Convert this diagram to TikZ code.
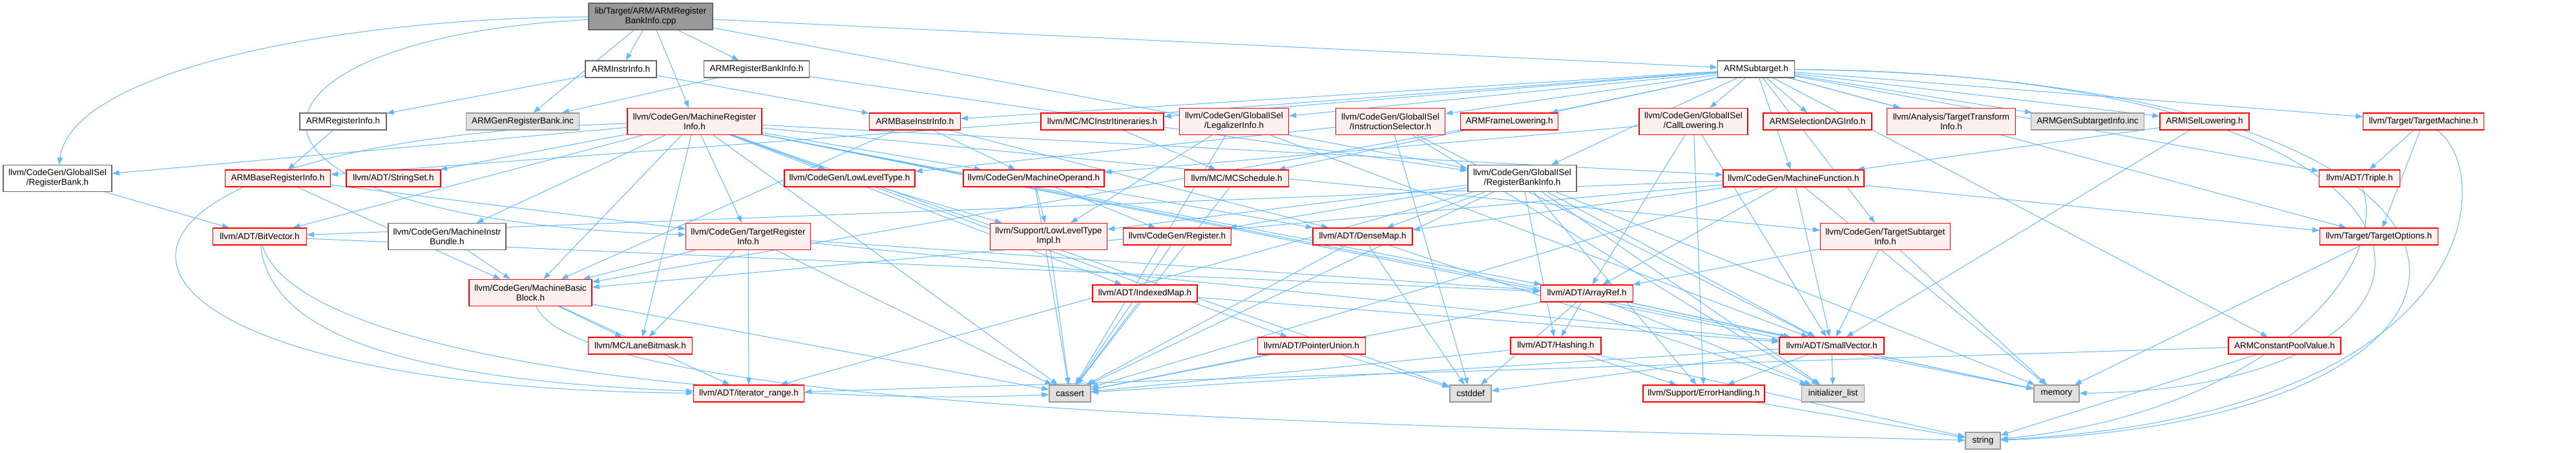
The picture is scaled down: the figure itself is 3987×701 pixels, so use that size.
\documentclass[tikz,border=0pt]{standalone}
\usepackage{fontspec}
\setmainfont{Liberation Sans}
\usetikzlibrary{arrows.meta,backgrounds}
\definecolor{edgeblue}{HTML}{63B8FF}
\definecolor{trunc}{HTML}{FF0000}
\definecolor{truncbg}{HTML}{FFF0F0}
\definecolor{sysbg}{HTML}{E0E0E0}
\definecolor{sysline}{HTML}{999999}
\definecolor{rootbg}{HTML}{999999}
\definecolor{rootline}{HTML}{666666}
\tikzset{
  hdr/.style={draw=trunc, fill=truncbg, line width=1.2pt, inner sep=0pt, minimum height=26, align=center, font=\fontsize{13.5}{15}\selectfont},
  tall/.style={minimum height=41},
  plain/.style={hdr, draw=rootline, fill=white},
  sys/.style={hdr, draw=sysline, fill=sysbg},
  src/.style={hdr, draw=rootline, fill=rootbg},
  dep/.style={-{Triangle[length=11pt,width=8pt]}, draw=edgeblue, line width=1pt},
}
\begin{document}
\begin{tikzpicture}[x=1pt,y=-1pt]
  \useasboundingbox (0,0) rectangle (3987,701);
  % source file and first level
  \node[src, tall, minimum width=192] (root) at (1007,25.5) {lib/Target/ARM/ARMRegister\\BankInfo.cpp};
  \node[plain, minimum width=110] (instr) at (961,107) {ARMInstrInfo.h};
  \node[plain, minimum width=163] (rbi) at (1171,107) {ARMRegisterBankInfo.h};
  \node[plain, minimum width=119] (sub) at (2718,107) {ARMSubtarget.h};
  % row 2
  \node[plain, minimum width=134] (reginfo) at (531,188) {ARMRegisterInfo.h};
  \node[sys, minimum width=175] (genrb) at (809,188) {ARMGenRegisterBank.inc};
  \node[hdr, tall, minimum width=208] (mri) at (1075,188) {llvm/CodeGen/MachineRegister\\Info.h};
  \node[hdr, minimum width=141] (baseinstr) at (1416,188) {ARMBaseInstrInfo.h};
  \node[hdr, minimum width=190] (itin) at (1706,188) {llvm/MC/MCInstrItineraries.h};
  \node[hdr, tall, minimum width=169] (legal) at (1910,188) {llvm/CodeGen/GlobalISel\\/LegalizerInfo.h};
  \node[hdr, tall, minimum width=169] (isel) at (2152,188) {llvm/CodeGen/GlobalISel\\/InstructionSelector.h};
  \node[hdr, minimum width=151] (frame) at (2336,188) {ARMFrameLowering.h};
  \node[hdr, tall, minimum width=168] (call) at (2621,188) {llvm/CodeGen/GlobalISel\\/CallLowering.h};
  \node[hdr, minimum width=168] (sdag) at (2813,188) {ARMSelectionDAGInfo.h};
  \node[hdr, tall, minimum width=199] (tti) at (3020,188) {llvm/Analysis/TargetTransform\\Info.h};
  \node[sys, minimum width=175] (gensub) at (3231,188) {ARMGenSubtargetInfo.inc};
  \node[hdr, minimum width=138] (isellow) at (3412,188) {ARMISelLowering.h};
  \node[hdr, minimum width=187] (tm) at (3751,188) {llvm/Target/TargetMachine.h};
  % row 3
  \node[plain, tall, minimum width=168] (rbank) at (89,276) {llvm/CodeGen/GlobalISel\\/RegisterBank.h};
  \node[hdr, minimum width=163] (basereg) at (430,276) {ARMBaseRegisterInfo.h};
  \node[hdr, minimum width=146] (sset) at (609,276) {llvm/ADT/StringSet.h};
  \node[hdr, minimum width=202] (llt) at (1315,276) {llvm/CodeGen/LowLevelType.h};
  \node[hdr, minimum width=218] (mop) at (1600,276) {llvm/CodeGen/MachineOperand.h};
  \node[hdr, minimum width=161] (sched) at (1914,276) {llvm/MC/MCSchedule.h};
  \node[plain, tall, minimum width=168] (rbinfo) at (2356,276) {llvm/CodeGen/GlobalISel\\/RegisterBankInfo.h};
  \node[hdr, minimum width=218] (mf) at (2776,276) {llvm/CodeGen/MachineFunction.h};
  \node[hdr, minimum width=125] (triple) at (3652,276) {llvm/ADT/Triple.h};
  % row 4
  \node[hdr, minimum width=145] (bitvec) at (402,366) {llvm/ADT/BitVector.h};
  \node[plain, tall, minimum width=182] (bundle) at (692,366) {llvm/CodeGen/MachineInstr\\Bundle.h};
  \node[hdr, tall, minimum width=193] (tri) at (1158,366) {llvm/CodeGen/TargetRegister\\Info.h};
  \node[hdr, tall, minimum width=181] (lltimpl) at (1623,366) {llvm/Support/LowLevelType\\Impl.h};
  \node[hdr, minimum width=167] (reg) at (1822,366) {llvm/CodeGen/Register.h};
  \node[hdr, minimum width=154] (dmap) at (2109,366) {llvm/ADT/DenseMap.h};
  \node[hdr, tall, minimum width=201] (tsi) at (2918,366) {llvm/CodeGen/TargetSubtarget\\Info.h};
  \node[hdr, minimum width=183] (topt) at (3682,366) {llvm/Target/TargetOptions.h};
  % row 5
  \node[hdr, tall, minimum width=190] (mbb) at (821,453) {llvm/CodeGen/MachineBasic\\Block.h};
  \node[hdr, minimum width=162] (imap) at (1772,454) {llvm/ADT/IndexedMap.h};
  \node[hdr, minimum width=143] (aref) at (2456,454) {llvm/ADT/ArrayRef.h};
  % row 6
  \node[hdr, minimum width=161] (lane) at (991,535) {llvm/MC/LaneBitmask.h};
  \node[hdr, minimum width=167] (punion) at (2030,535) {llvm/ADT/PointerUnion.h};
  \node[hdr, minimum width=140] (hash) at (2408,535) {llvm/ADT/Hashing.h};
  \node[hdr, minimum width=162] (svec) at (2835,535) {llvm/ADT/SmallVector.h};
  \node[hdr, minimum width=174] (acpv) at (3536,535) {ARMConstantPoolValue.h};
  % bottom
  \node[hdr, minimum width=171] (irange) at (1159,609) {llvm/ADT/iterator\_range.h};
  \node[sys, minimum width=64] (cassert) at (1656,609) {cassert};
  \node[sys, minimum width=64] (cstddef) at (2276,609) {cstddef};
  \node[hdr, minimum width=188] (errh) at (2637,609) {llvm/Support/ErrorHandling.h};
  \node[sys, minimum width=97] (initl) at (2837,609) {initializer\_list};
  \node[sys, minimum width=70] (memory) at (3183,609) {memory};
  \node[sys, minimum width=54] (string) at (3069,682) {string};

  \begin{scope}[on background layer]
    % includes of the .cpp
    \draw[dep] (root) .. controls (520,28) and (110,110) .. (rbank);
    \draw[dep] (root) .. controls (330,60) and (280,340) .. (tri);
    \foreach \t in {instr,genrb,mri,rbi,sub,rbinfo} \draw[dep] (root) -- (\t);
    % ARM headers
    \foreach \t in {reginfo,baseinstr} \draw[dep] (instr) -- (\t);
    \foreach \t in {genrb,rbinfo} \draw[dep] (rbi) -- (\t);
    \foreach \t in {baseinstr,basereg,acpv,frame,isellow,sdag,triple,tti,call,isel,legal,rbinfo,mf,tsi,itin,sched,tm,topt,gensub}
      \draw[dep] (sub) -- (\t);
    \draw[dep] (sub) .. controls (3880,115) and (3890,600) .. (memory);
    \draw[dep] (sub) .. controls (3985,120) and (3985,650) .. (string);
    \draw[dep] (reginfo) -- (basereg);
    \foreach \t in {mbb,tri} \draw[dep] (basereg) -- (\t);
    \foreach \t in {dmap,mbb,mop} \draw[dep] (baseinstr) -- (\t);
    \foreach \t in {svec,mf} \draw[dep] (isellow) -- (\t);
    \draw[dep] (frame) -- (mbb);
    \draw[dep] (acpv) -- (irange);
    \draw[dep] (acpv) -- (string);
    % llvm headers
    \foreach \t in {aref,bitvec,imap,punion,svec,sset,rbank,llt,mbb,mf,bundle,mop,tri,tsi,lane,cassert,cstddef,memory}
      \draw[dep] (mri) -- (\t);
    \draw[dep] (mri) .. controls (0,220) and (50,600) .. (irange);
    \foreach \t in {svec,lltimpl,cassert} \draw[dep] (legal) -- (\t);
    \foreach \t in {svec,llt,cstddef,initl} \draw[dep] (isel) -- (\t);
    \foreach \t in {aref,svec,mop,errh} \draw[dep] (call) -- (\t);
    \foreach \t in {triple,topt} \draw[dep] (tm) -- (\t);
    \draw[dep] (tm) .. controls (3860,260) and (3860,640) .. (string);
    \draw[dep] (itin) -- (sched);
    \draw[dep] (rbank) -- (bitvec);
    \draw[dep] (llt) -- (lltimpl);
    \foreach \t in {lltimpl,reg,dmap,cassert} \draw[dep] (mop) -- (\t);
    \draw[dep] (sched) -- (cassert);
    \foreach \t in {dmap,hash,svec,irange,reg,errh,lltimpl,cassert,initl,memory} \draw[dep] (rbinfo) -- (\t);
    \foreach \t in {aref,bitvec,dmap,svec,mbb,topt,cassert,memory} \draw[dep] (mf) -- (\t);
    \draw[dep] (triple) .. controls (3700,420) and (3500,640) .. (string);
    \draw[dep] (bitvec) -- (aref);
    \draw[dep] (bitvec) .. controls (420,540) and (700,590) .. (irange);
    \draw[dep] (bitvec) .. controls (460,560) and (1200,630) .. (cassert);
    \draw[dep] (bundle) -- (mbb);
    \foreach \t in {aref,svec,irange,mbb,lane,cassert} \draw[dep] (tri) -- (\t);
    \draw[dep] (lltimpl) -- (cassert);
    \draw[dep] (reg) -- (cassert);
    \foreach \t in {cassert,cstddef,initl} \draw[dep] (dmap) -- (\t);
    \foreach \t in {aref,svec,memory} \draw[dep] (tsi) -- (\t);
    \draw[dep] (topt) -- (memory);
    \foreach \t in {irange,lane,cassert} \draw[dep] (mbb) -- (\t);
    \draw[dep] (mbb) .. controls (900,640) and (2200,660) .. (string);
    \foreach \t in {svec,cassert} \draw[dep] (imap) -- (\t);
    \foreach \t in {hash,svec,cassert,cstddef,initl,memory} \draw[dep] (aref) -- (\t);
    \foreach \t in {cassert,cstddef} \draw[dep] (punion) -- (\t);
    \foreach \t in {errh,cassert,string} \draw[dep] (hash) -- (\t);
    \foreach \t in {errh,cassert,cstddef,initl,memory} \draw[dep] (svec) -- (\t);
    \draw[dep] (errh) -- (string);
  \end{scope}
\end{tikzpicture}
\end{document}
